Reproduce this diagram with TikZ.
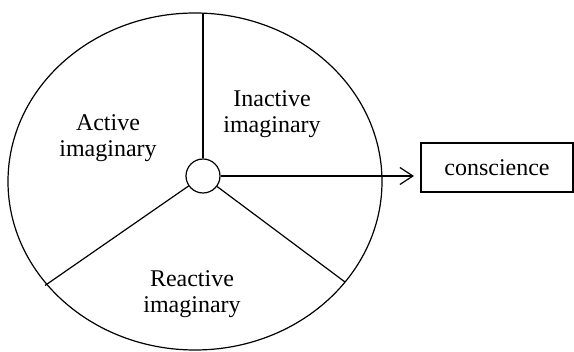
\documentclass[tikz,border=0pt]{standalone}
\usepackage{fontspec}
\setmainfont{Liberation Serif}
\usetikzlibrary{arrows.meta}
\begin{document}
\begin{tikzpicture}[x=1pt,y=-1pt,line width=1.2pt,
  lbl/.style={font=\fontsize{24}{26}\selectfont, align=center, inner sep=0pt},
  hub/.style={circle, draw, minimum size=34pt, inner sep=0pt},
  boxnode/.style={draw, minimum width=152pt, minimum height=49pt, inner sep=0pt, font=\fontsize{24}{26}\selectfont}]
\useasboundingbox (0,0) rectangle (574,352);
\draw (195,181.5) ellipse [x radius=187, y radius=168.5];
\node[hub] (hub) at (203,176) {};
\coordinate (top) at (203,13.2);
\coordinate (ll) at (45,285.5);
\coordinate (lr) at (345,282);
\coordinate (tip) at (414,176);
\draw (hub) -- (top);
\draw (hub) -- (ll);
\draw (hub) -- (lr);
\node[boxnode] (cons) at (497,167.5) {conscience};
\draw[-{Straight Barb[length=13pt,width=17pt]}] (hub) -- (tip);
\node[lbl] (act) at (108,138.5) {Active\\imaginary};
\node[lbl] (inact) at (272,114.5) {Inactive\\imaginary};
\node[lbl] (react) at (192,294.5) {Reactive\\imaginary};
\end{tikzpicture}
\end{document}
